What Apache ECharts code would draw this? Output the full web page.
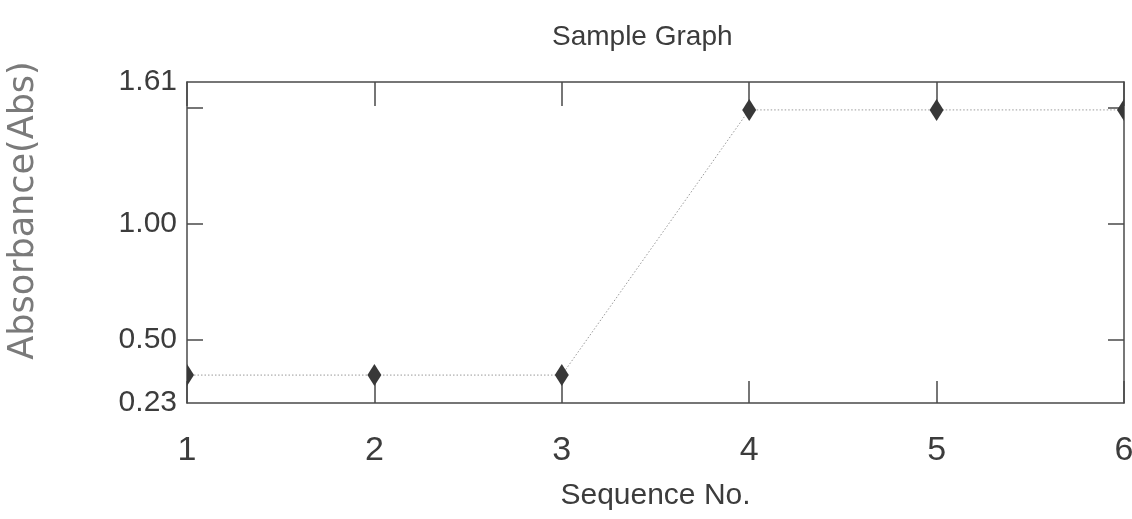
<!DOCTYPE html>
<html>
<head>
<meta charset="utf-8">
<script src="https://cdn.jsdelivr.net/npm/echarts@6/dist/echarts.min.js"></script>
<style>
  html, body { margin: 0; padding: 0; background: #ffffff; }
  #chart { width: 1132px; height: 519px; }
</style>
</head>
<body>
<div id="chart"></div>
<script>
// Absorbance readings per sequence number
const sequenceNo = [1, 2, 3, 4, 5, 6];
const absorbance = [0.35, 0.35, 0.35, 1.49, 1.49, 1.49];

// Y axis range, tick marks and labelled values
const yMin = 0.23;
const yMax = 1.61;
const yTickValues = [0.5, 1.0, 1.5];
const yLabelValues = [0.23, 0.50, 1.00, 1.61];

const points = sequenceNo.map((x, i) => [x, absorbance[i]]);

const sans = "'Liberation Sans', Arial, sans-serif";
const frameColor = '#4a4a4a';
const textColor = '#3c3c3c';

const frameLine = { show: true, lineStyle: { color: frameColor, width: 1.5 } };
const tickStyle = { color: frameColor, width: 1.5 };

const chart = echarts.init(document.getElementById('chart'), null, { renderer: 'canvas' });

chart.setOption({
  backgroundColor: '#ffffff',
  animation: false,
  title: {
    text: 'Sample Graph',
    left: 547,
    top: 18,
    textStyle: { fontFamily: sans, fontSize: 28, fontWeight: 'normal', color: textColor }
  },
  grid: { left: 187, right: 8, top: 82, bottom: 116, containLabel: false, outerBoundsMode: 'none' },
  xAxis: [
    {
      type: 'value',
      position: 'bottom',
      min: 1,
      max: 6,
      interval: 1,
      axisLine: frameLine,
      axisTick: { show: true, inside: true, length: 22, lineStyle: tickStyle },
      axisLabel: { fontFamily: sans, fontSize: 34, color: textColor, margin: 31 },
      splitLine: { show: false },
      name: 'Sequence No.',
      nameLocation: 'middle',
      nameGap: 78,
      nameTextStyle: { fontFamily: sans, fontSize: 30, color: textColor }
    },
    {
      type: 'value',
      position: 'top',
      min: 1,
      max: 6,
      interval: 1,
      axisLine: frameLine,
      axisTick: { show: true, inside: true, length: 24, lineStyle: tickStyle },
      axisLabel: { show: false },
      splitLine: { show: false }
    }
  ],
  yAxis: [
    {
      type: 'value',
      position: 'left',
      min: yMin,
      max: yMax,
      axisLine: frameLine,
      axisTick: { show: true, inside: true, length: 16, customValues: yTickValues, lineStyle: tickStyle },
      axisLabel: {
        customValues: yLabelValues,
        formatter: v => v.toFixed(2),
        fontFamily: sans, fontSize: 30, color: textColor, margin: 10
      },
      splitLine: { show: false },
      name: 'Absorbance(Abs)',
      nameLocation: 'middle',
      nameRotate: 90,
      nameGap: 146,
      nameTextStyle: { fontFamily: "'DejaVu Sans', sans-serif", fontSize: 35, color: '#7a7a7a', padding: [0, 0, 0, 64] }
    },
    {
      type: 'value',
      position: 'right',
      min: yMin,
      max: yMax,
      axisLine: frameLine,
      axisTick: { show: true, inside: true, length: 16, customValues: yTickValues, lineStyle: tickStyle },
      axisLabel: { show: false },
      splitLine: { show: false }
    }
  ],
  series: [
    {
      type: 'line',
      data: points,
      symbol: 'none',
      lineStyle: { color: '#9a9a9a', width: 1, type: [1.5, 2] },
      z: 2
    },
    {
      // diamond markers, clipped at the plot frame
      type: 'custom',
      data: points,
      clip: true,
      z: 3,
      renderItem: function (params, api) {
        const p = api.coord([api.value(0), api.value(1)]);
        const hw = 7, hh = 11;
        return {
          type: 'polygon',
          shape: { points: [[p[0], p[1] - hh], [p[0] + hw, p[1]], [p[0], p[1] + hh], [p[0] - hw, p[1]]] },
          style: { fill: '#383838' }
        };
      }
    }
  ]
});
</script>
</body>
</html>
